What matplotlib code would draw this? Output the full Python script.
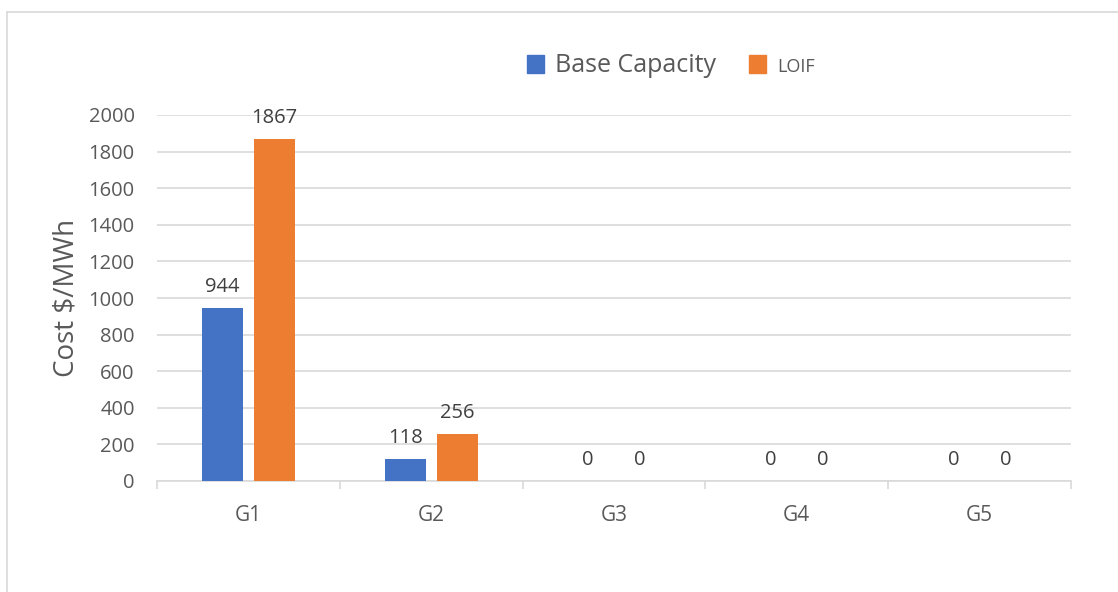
import numpy as np
import matplotlib.pyplot as plt
from matplotlib.lines import Line2D
from matplotlib.patches import Patch

# chart data
categories = ['G1', 'G2', 'G3', 'G4', 'G5']
base_capacity = [944, 118, 0, 0, 0]
loif = [1867, 256, 0, 0, 0]
series_names = ['Base Capacity', 'LOIF']

blue = '#4472C4'
orange = '#ED7D31'
text_col = '#595959'
grid_col = '#D9D9D9'

plt.rcParams['font.family'] = ['Open Sans', 'DejaVu Sans']

fig = plt.figure(figsize=(11.18, 5.92), dpi=100)
ax = fig.add_axes([157 / 1118, 1 - 481 / 592, (1071 - 157) / 1118, (481 - 115) / 592])

x = np.arange(len(categories))
width = 0.224
offset = 0.142
b1 = ax.bar(x - offset, base_capacity, width, color=blue, zorder=3)
b2 = ax.bar(x + offset, loif, width, color=orange, zorder=3)

# value labels above bars
for bars in (b1, b2):
    for rect in bars:
        h = rect.get_height()
        ax.annotate('%d' % h, (rect.get_x() + rect.get_width() / 2, h),
                    xytext=(0, 8), textcoords='offset points',
                    ha='center', va='bottom', fontsize=14.5, color='#404040')

ax.set_xlim(-0.5, len(categories) - 0.5)
ax.set_ylim(0, 2000)
ax.set_yticks(np.arange(0, 2001, 200))
ax.yaxis.grid(True, color=grid_col, linewidth=1.2, zorder=0)
ax.set_axisbelow(True)

# category boundaries as tick marks
ax.set_xticks(np.arange(-0.5, len(categories)), minor=False)
ax.set_xticklabels([])
ax.set_xticks(x, minor=True)
ax.set_xticklabels(categories, minor=True)
ax.tick_params(axis='x', which='major', length=6, color=grid_col, width=1.2)
ax.tick_params(axis='x', which='minor', length=0, pad=17, labelsize=15, labelcolor=text_col)
ax.tick_params(axis='y', length=0, pad=16, labelsize=14.5, labelcolor=text_col)

for s in ['top', 'right', 'left']:
    ax.spines[s].set_visible(False)
ax.spines['bottom'].set_color(grid_col)
ax.spines['bottom'].set_linewidth(1.2)

ax.set_ylabel('Cost $/MWh', fontsize=20, color=text_col, labelpad=6)

# legend
handles = [Patch(color=blue), Patch(color=orange)]
leg = fig.legend(handles, series_names, loc='center', bbox_to_anchor=(671 / 1118, 1 - 66 / 592),
                 ncol=2, frameon=False, handlelength=0.7, handleheight=0.7,
                 handletextpad=0.45, columnspacing=1.3, fontsize=18)
for t in leg.get_texts():
    t.set_color(text_col)
leg.get_texts()[1].set_fontsize(13)

# outer chart border (left and top edges visible)
fig.add_artist(Line2D([7 / 1118, 7 / 1118], [0, 1 - 12 / 592], color=grid_col, lw=1.2))
fig.add_artist(Line2D([7 / 1118, 1], [1 - 12 / 592, 1 - 12 / 592], color=grid_col, lw=1.2))

fig.savefig('out.png', dpi=100)
